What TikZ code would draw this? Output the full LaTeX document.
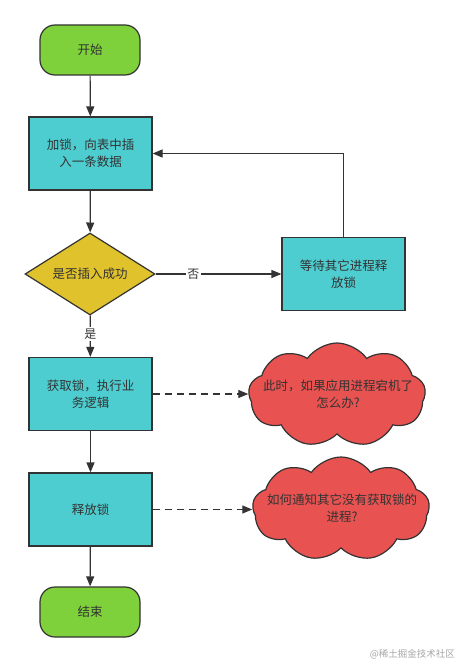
\documentclass[tikz,border=0pt]{standalone}
\usepackage{fontspec}
\setmainfont{Noto Sans CJK SC}
\usetikzlibrary{shapes.geometric,shapes.symbols,arrows.meta}
\definecolor{termgreen}{RGB}{126,209,59}
\definecolor{procyan}{RGB}{78,205,208}
\definecolor{decyellow}{RGB}{224,194,44}
\definecolor{cloudred}{RGB}{232,82,80}
\definecolor{linegray}{RGB}{51,51,51}
\tikzset{
  base/.style={draw=linegray, line width=1.2pt, font=\fontsize{12.5}{17}\selectfont, text=linegray, align=center, inner sep=0pt},
  term/.style={base, fill=termgreen, rounded corners=15pt, minimum width=100pt, minimum height=50pt},
  proc/.style={base, fill=procyan, minimum width=123pt, minimum height=73pt},
  dec/.style={base, fill=decyellow, diamond, shape aspect=1.6, minimum width=130pt, minimum height=82pt},
  cloudbox/.style={base, fill=cloudred, cloud, cloud puffs=9, cloud puff arc=110, cloud ignores aspect, minimum width=177pt, minimum height=104pt},
  cloudtext/.style={text=linegray, font=\fontsize{12.5}{17}\selectfont, align=center, inner sep=0pt},
  conn/.style={draw=linegray, line width=1.2pt, -{Triangle[length=10pt,width=8pt]}},
  dconn/.style={conn, dash pattern=on 7pt off 5pt},
  lbl/.style={fill=white, text=linegray, font=\fontsize{12}{14}\selectfont, inner sep=1.5pt}
}
\begin{document}
\begin{tikzpicture}[x=1pt,y=-1pt]
\useasboundingbox (0,0) rectangle (459,663);
\node[term] (start) at (90,50) {开始};
\node[proc] (insert) at (90.5,153.5) {加锁，向表中插\\入一条数据};
\node[dec] (check) at (90,274) {是否插入成功};
\node[proc] (wait) at (343.5,274) {等待其它进程释\\放锁};
\node[proc] (work) at (90.5,394) {获取锁，执行业\\务逻辑};
\node[cloudbox] (q1) at (337,395) {};
\node[cloudtext] (q1t) at (338,394) {此时，如果应用进程宕机了\\怎么办?};
\node[proc] (release) at (90.5,509.5) {释放锁};
\node[cloudbox] (q2) at (341,509) {};
\node[cloudtext] (q2t) at (342,508) {如何通知其它没有获取锁的\\进程?};
\node[term] (end) at (90,612) {结束};
\node[text=gray!70, font=\fontsize{9.5}{11}\selectfont, anchor=east, inner sep=0pt] (wm) at (455,654) {@稀土掘金技术社区};

\draw[conn] (start) -- (insert);
\draw[conn] (insert) -- (check);
\draw[conn] (check) -- node[lbl, pos=0.3] {否} (wait);
\draw[conn] (wait.north) |- (insert.east);
\draw[conn] (check) -- node[lbl, pos=0.45] {是} (work);
\draw[dconn] (work) -- (q1.west |- work);
\draw[conn] (work) -- (release);
\draw[dconn] (release) -- (q2.west |- release);
\draw[conn] (release) -- (end);
\end{tikzpicture}
\end{document}
